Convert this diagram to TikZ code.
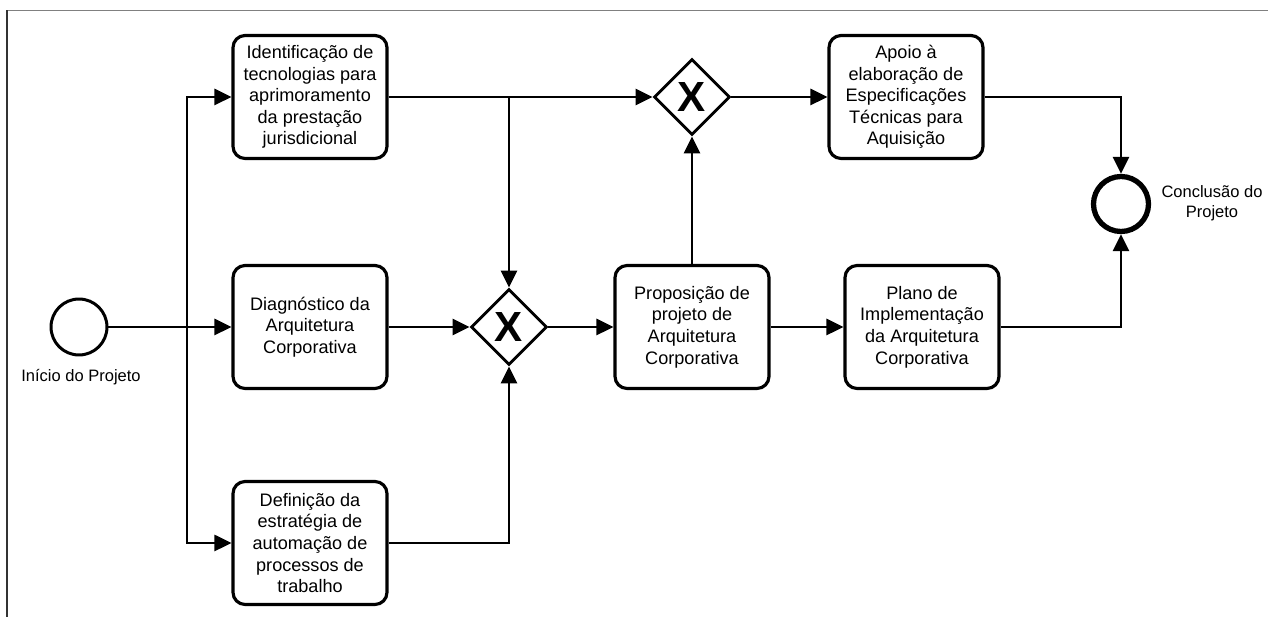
\documentclass[tikz,border=0pt]{standalone}
\usepackage{fontspec}
\setmainfont{Liberation Sans}
\usetikzlibrary{arrows.meta,shapes.geometric}

\tikzset{
	task/.style={draw, line width=1.8pt, rounded corners=0.24cm, minimum width=3.08cm, minimum height=2.46cm, align=center, inner sep=0pt, font=\fontsize{10.3}{12.3}\selectfont},
	gateway/.style={draw, diamond, aspect=1, line width=1.6pt, minimum size=1.52cm, inner sep=0pt, font=\fontsize{24}{24}\selectfont\bfseries},
	startev/.style={draw, circle, line width=1.7pt, minimum size=1.12cm, inner sep=0pt},
	endev/.style={draw, circle, line width=3pt, minimum size=1.1cm, inner sep=0pt},
	evlabel/.style={align=center, inner sep=0pt, font=\fontsize{9.4}{11.4}\selectfont},
	flow/.style={line width=1.6pt, -{Triangle[length=0.34cm, width=0.32cm]}}
}

\begin{document}
\begin{tikzpicture}[x=0.02cm, y=-0.02cm]
			%%%%% START %%%%%
			\useasboundingbox (0, 0) rectangle (1268, 617);
			
			\draw[line width=0.9pt, color=black!50] (7, 10.5) -- (1268, 10.5);
			\draw[line width=0.9pt, color=black!80] (7, 10.5) -- (7, 617);
			
			\node[startev] (inicio) at (79, 327) {};
			\node[evlabel] (inicioLbl) at (81, 377) {Início do Projeto};
			\coordinate (split) at (187, 327);
			
			\node[task] (ident) at (310, 97) {Identificação de\\tecnologias para\\aprimoramento\\da prestação\\jurisdicional};
			\node[task] (diag) at (310, 327) {Diagnóstico da\\Arquitetura\\Corporativa};
			\node[task] (defin) at (310, 543) {Definição da\\estratégia de\\automação de\\processos de\\trabalho};
			
			\node[gateway] (gwA) at (509, 327) {X};
			\node[gateway] (gwB) at (692, 97) {X};
			
			\node[task] (propos) at (692, 327) {Proposição de\\projeto de\\Arquitetura\\Corporativa};
			\node[task] (apoio) at (906, 97) {Apoio à\\elaboração de\\Especificações\\Técnicas para\\Aquisição};
			\node[task] (plano) at (922, 327) {Plano de\\Implementação\\da Arquitetura\\Corporativa};
			
			\node[endev] (fim) at (1121, 204) {};
			\node[evlabel] (fimLbl) at (1212, 203) {Conclusão do\\Projeto};
			
			\draw[flow] (inicio) -- (diag);
			\draw[flow] (split) |- (ident.west);
			\draw[flow] (split) |- (defin.west);
			
			\draw[flow] (ident) -- (gwB);
			\draw[flow] (ident.east) -| (gwA.north);
			\draw[flow] (diag) -- (gwA);
			\draw[flow] (defin.east) -| (gwA.south);
			
			\draw[flow] (gwA) -- (propos);
			\draw[flow] (propos) -- (gwB);
			\draw[flow] (propos) -- (plano);
			\draw[flow] (gwB) -- (apoio);
			
			\draw[flow] (apoio.east) -| (fim.north);
			\draw[flow] (plano.east) -| (fim.south);
			%%%%% END %%%%%
		\end{tikzpicture}
\end{document}
